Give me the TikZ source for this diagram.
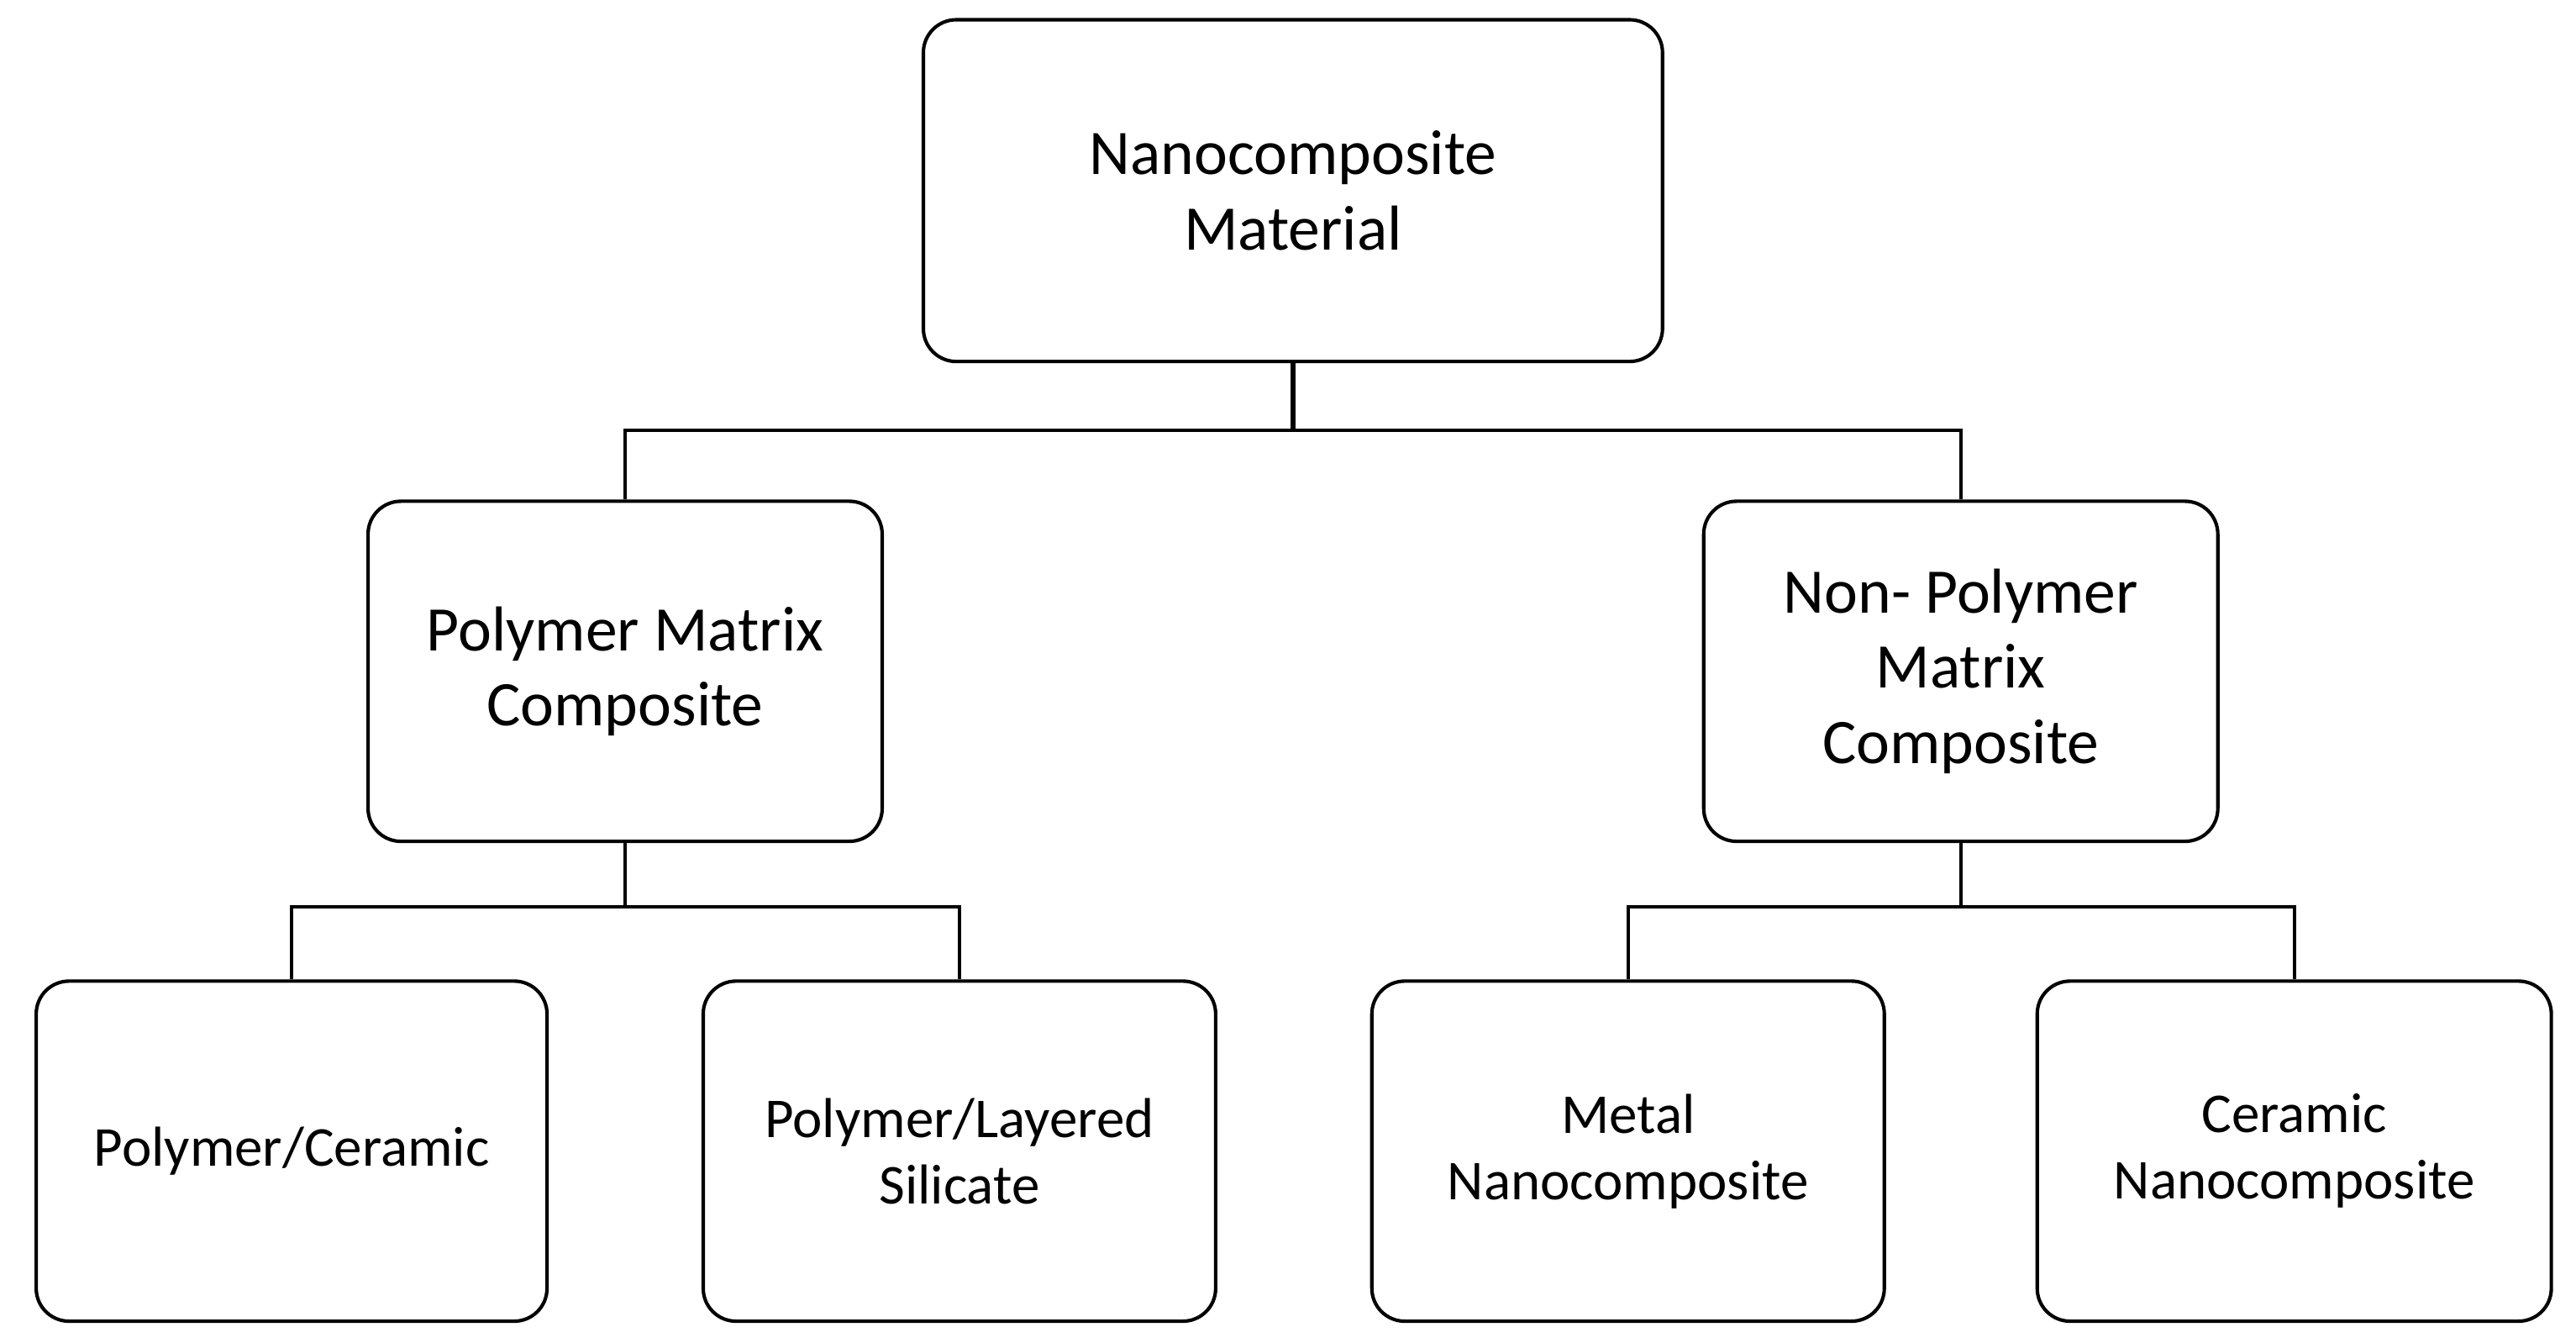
\documentclass[tikz,border=0pt]{standalone}
\usepackage{fontspec}
\setmainfont{Carlito}
\begin{document}
\begin{tikzpicture}[x=0.02cm,y=-0.02cm,
  box/.style={draw,line width=1.2pt,rounded corners=0.4cm,align=center,inner sep=0pt},
  big/.style={font=\fontsize{22}{26}\selectfont},
  small/.style={font=\fontsize{19.5}{23}\selectfont},
  ln/.style={line width=1.1pt}]
\useasboundingbox (0,0) rectangle (1568,817);
\node[box,big,minimum width=9cm,minimum height=4.16cm] (top) at (787,116) {Nanocomposite\\Material};
\node[box,big,minimum width=6.26cm,minimum height=4.14cm] (pm) at (380.5,408.5) {Polymer Matrix\\Composite};
\node[box,big,minimum width=6.26cm,minimum height=4.14cm] (npm) at (1193.5,408.5) {Non- Polymer\\Matrix\\Composite};
\node[box,small,minimum width=6.22cm,minimum height=4.14cm] (b1) at (177.5,700.5) {Polymer/Ceramic};
\node[box,small,minimum width=6.24cm,minimum height=4.14cm] (b2) at (584,700.5) {Polymer/Layered\\Silicate};
\node[box,small,minimum width=6.24cm,minimum height=4.14cm] (b3) at (991,700.5) {Metal\\Nanocomposite};
\node[box,small,minimum width=6.26cm,minimum height=4.14cm] (b4) at (1396.5,700.5) {Ceramic\\Nanocomposite};
\coordinate (j1) at (787,262);
\coordinate (j2) at (380.5,552);
\coordinate (j3) at (1193.5,552);
\draw[ln,line width=1.6pt] (top.south) -- (j1);
\draw[ln] (pm.north) -- (pm.north |- j1) -- (npm.north |- j1) -- (npm.north);
\draw[ln] (pm.south) -- (j2);
\draw[ln] (b1.north) -- (b1.north |- j2) -- (b2.north |- j2) -- (b2.north);
\draw[ln] (npm.south) -- (j3);
\draw[ln] (b3.north) -- (b3.north |- j3) -- (b4.north |- j3) -- (b4.north);
\end{tikzpicture}
\end{document}
